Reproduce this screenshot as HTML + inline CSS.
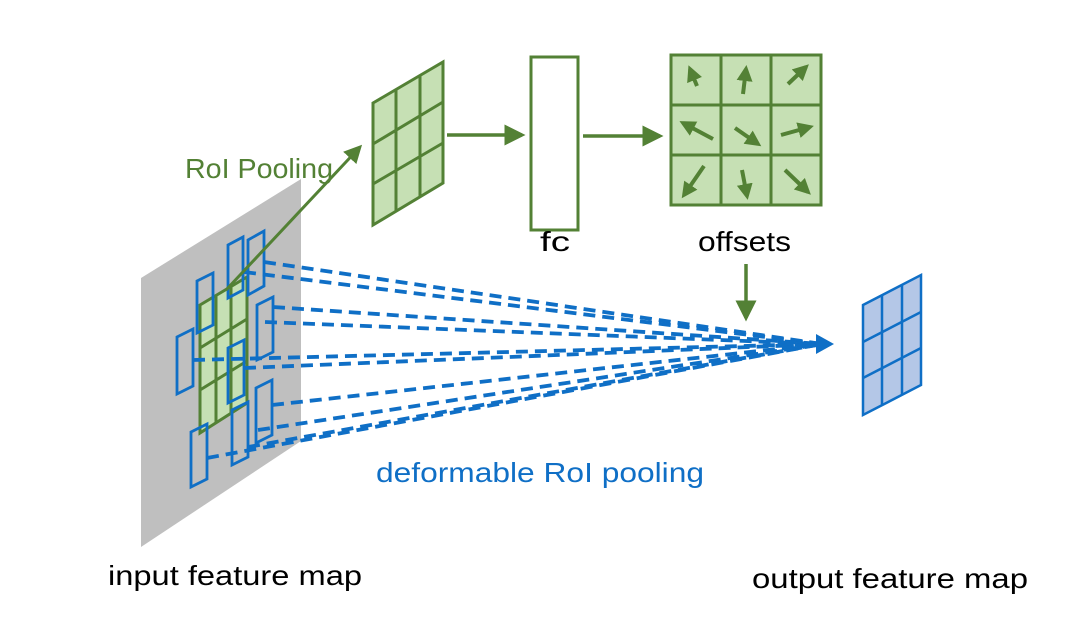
<!DOCTYPE html>
<html><head><meta charset="utf-8"><style>
body{margin:0;background:#fff;width:1086px;height:636px;overflow:hidden}
text{font-family:"Liberation Sans",sans-serif}
</style></head><body>
<svg width="1086" height="636" viewBox="0 0 1086 636">
<defs>
<marker id="ga" markerWidth="6" markerHeight="6" refX="5" refY="3" orient="auto" markerUnits="strokeWidth"><path d="M0,0L6,3L0,6z" fill="#538135"/></marker>
<marker id="sa" markerWidth="4" markerHeight="4" refX="3" refY="2" orient="auto" markerUnits="strokeWidth"><path d="M0,0L4,2L0,4z" fill="#538135"/></marker>
</defs>
<polygon points="141,278 301,179 301,441 141,547" fill="#bfbfbf"/>
<polygon points="200,305 247,277 247,403 200,433" fill="#c6e0b4" stroke="#538135" stroke-width="3"/>
<g stroke="#538135" stroke-width="3">
<line x1="216" y1="296" x2="216" y2="423"/><line x1="231" y1="287" x2="231" y2="413"/>
<line x1="200" y1="348" x2="247" y2="319"/><line x1="200" y1="390" x2="247" y2="361"/>
</g>
<g fill="none" stroke="#0f6fc6" stroke-width="2.8">
<polygon points="197,281 213,273 213,325 197,333"/>
<polygon points="228,245 243,237 243,290 228,298"/>
<polygon points="248,240 264,231 264,286 248,295"/>
<polygon points="177,337 193,329 193,386 177,394"/>
<polygon points="257,305 273,297 273,352 257,360"/>
<polygon points="228,348 244,340 244,395 228,403"/>
<polygon points="256,388 272,380 272,435 256,443"/>
<polygon points="191,432 207,424 207,479 191,487"/>
<polygon points="232,410 248,402 248,457 232,465"/>
</g>
<g stroke="#0f6fc6" stroke-width="3.8" stroke-dasharray="12,7" fill="none">
<line x1="264" y1="262" x2="822" y2="344"/>
<line x1="244" y1="272" x2="822" y2="344"/>
<line x1="273" y1="307" x2="822" y2="344"/>
<line x1="265" y1="322" x2="822" y2="344"/>
<line x1="193" y1="360" x2="822" y2="344"/>
<line x1="244" y1="368" x2="822" y2="344"/>
<line x1="272" y1="405" x2="822" y2="344"/>
<line x1="258" y1="430" x2="822" y2="344"/>
<line x1="248" y1="447" x2="822" y2="344"/>
<line x1="207" y1="458" x2="822" y2="344"/>
</g>
<polygon points="816,334 834,344 816,354" fill="#0f6fc6"/>
<line x1="226" y1="290" x2="360" y2="147" stroke="#538135" stroke-width="3" marker-end="url(#ga)"/>
<polygon points="373,103 443,62 443,183 373,225" fill="#c6e0b4" stroke="#538135" stroke-width="3"/>
<g stroke="#538135" stroke-width="3">
<line x1="396" y1="89" x2="396" y2="211"/><line x1="420" y1="76" x2="420" y2="197"/>
<line x1="373" y1="144" x2="443" y2="102"/><line x1="373" y1="184" x2="443" y2="143"/>
</g>
<line x1="447" y1="135" x2="522" y2="135" stroke="#538135" stroke-width="3.5" marker-end="url(#ga)"/>
<rect x="531" y="57" width="47" height="173" fill="#fff" stroke="#538135" stroke-width="3"/>
<line x1="583" y1="136" x2="660" y2="136" stroke="#538135" stroke-width="3.5" marker-end="url(#ga)"/>
<rect x="671" y="55" width="150" height="150" fill="#c6e0b4" stroke="#538135" stroke-width="3"/>
<g stroke="#538135" stroke-width="3">
<line x1="721" y1="55" x2="721" y2="205"/><line x1="771" y1="55" x2="771" y2="205"/>
<line x1="671" y1="105" x2="821" y2="105"/><line x1="671" y1="155" x2="821" y2="155"/>
</g>
<g stroke="#538135" stroke-width="4" marker-end="url(#sa)">
<line x1="697" y1="86" x2="690" y2="69"/>
<line x1="743" y1="94" x2="746" y2="69"/>
<line x1="788" y1="84" x2="806" y2="67"/>
<line x1="713" y1="139" x2="683" y2="123"/>
<line x1="735" y1="128" x2="758" y2="144"/>
<line x1="781" y1="135" x2="810" y2="127"/>
<line x1="704" y1="166" x2="684" y2="195"/>
<line x1="742" y1="170" x2="747" y2="196"/>
<line x1="785" y1="170" x2="808" y2="192"/>
</g>
<line x1="746" y1="264" x2="746" y2="318" stroke="#538135" stroke-width="3.5" marker-end="url(#ga)"/>
<polygon points="863,305 921,275 921,385 863,415" fill="#b4c7e7" stroke="#0f6fc6" stroke-width="2.5"/>
<g stroke="#0f6fc6" stroke-width="2.5">
<line x1="882" y1="295" x2="882" y2="405"/><line x1="902" y1="285" x2="902" y2="395"/>
<line x1="863" y1="342" x2="921" y2="312"/><line x1="863" y1="378" x2="921" y2="348"/>
</g>
<text x="185" y="178" font-size="28" fill="#538135" textLength="148" lengthAdjust="spacingAndGlyphs">RoI Pooling</text>
<text x="540" y="251" font-size="28" fill="#000" textLength="30" lengthAdjust="spacingAndGlyphs">fc</text>
<text x="698" y="251" font-size="28" fill="#000" textLength="93" lengthAdjust="spacingAndGlyphs">offsets</text>
<text x="376" y="482" font-size="28" fill="#0f6fc6" textLength="328" lengthAdjust="spacingAndGlyphs">deformable RoI pooling</text>
<text x="108" y="585" font-size="28" fill="#000" textLength="254" lengthAdjust="spacingAndGlyphs">input feature map</text>
<text x="752" y="588" font-size="28" fill="#000" textLength="276" lengthAdjust="spacingAndGlyphs">output feature map</text>
</svg>
</body></html>
